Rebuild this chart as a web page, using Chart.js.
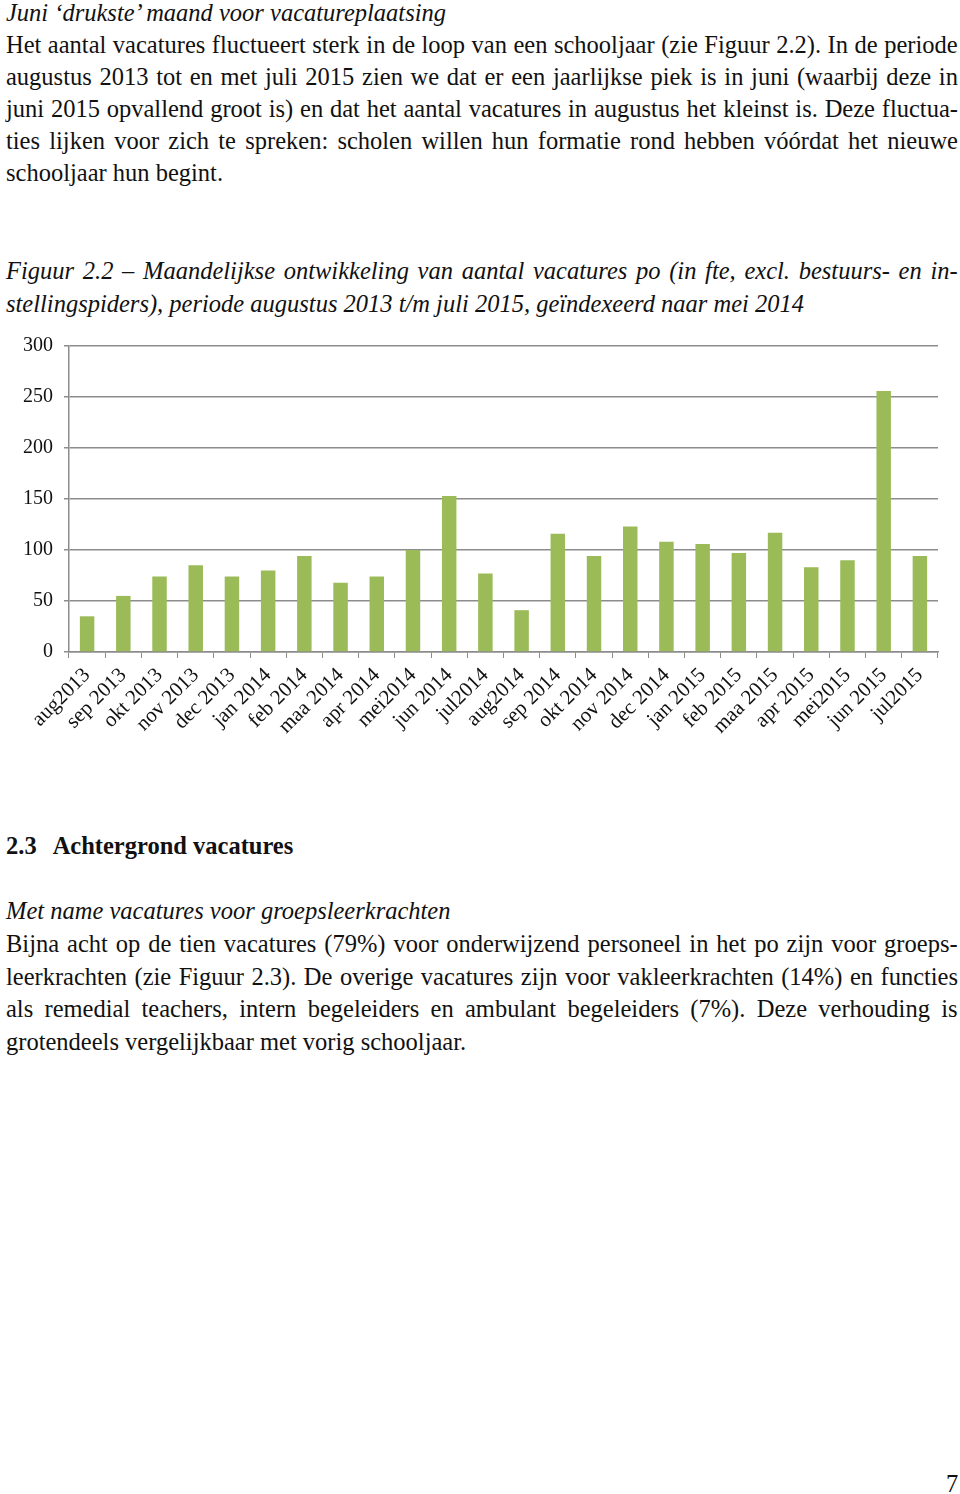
<!DOCTYPE html>
<html>
<head>
<meta charset="utf-8">
<script src="https://cdn.jsdelivr.net/npm/chart.js@4.4.1/dist/chart.umd.min.js"></script>
<style>
body{margin:0;width:960px;height:1494px;background:#fff;position:relative;overflow:hidden;font-family:"Liberation Serif","Times New Roman",serif;color:#111}
.t{position:absolute;left:6px;width:952px;font-size:24.5px}
.t div{white-space:nowrap}
.i{font-style:italic}
#c{position:absolute;left:0;top:323px}
</style>
</head>
<body>
<div class="t" style="top:-3px;line-height:32px">
<div class="i">Juni ‘drukste’ maand voor vacatureplaatsing</div>
<div class="j">Het aantal vacatures fluctueert sterk in de loop van een schooljaar (zie Figuur 2.2). In de periode</div>
<div class="j">augustus 2013 tot en met juli 2015 zien we dat er een jaarlijkse piek is in juni (waarbij deze in</div>
<div class="j">juni 2015 opvallend groot is) en dat het aantal vacatures in augustus het kleinst is. Deze fluctua-</div>
<div class="j">ties lijken voor zich te spreken: scholen willen hun formatie rond hebben vóórdat het nieuwe</div>
<div>schooljaar hun begint.</div>
</div>

<div class="t i" style="top:255px;line-height:32.5px">
<div class="j">Figuur 2.2 – Maandelijkse ontwikkeling van aantal vacatures po (in fte, excl. bestuurs- en in-</div>
<div>stellingspiders), periode augustus 2013 t/m juli 2015, geïndexeerd naar mei 2014</div>
</div>

<canvas id="c" width="960" height="437"></canvas>

<div class="t" style="top:830px;line-height:32px;font-weight:bold">
<div>2.3<span style="display:inline-block;width:16px"></span>Achtergrond vacatures</div>
</div>

<div class="t" style="top:895px;line-height:32.75px">
<div class="i">Met name vacatures voor groepsleerkrachten</div>
<div class="j">Bijna acht op de tien vacatures (79%) voor onderwijzend personeel in het po zijn voor groeps-</div>
<div class="j">leerkrachten (zie Figuur 2.3). De overige vacatures zijn voor vakleerkrachten (14%) en functies</div>
<div class="j">als remedial teachers, intern begeleiders en ambulant begeleiders (7%). Deze verhouding is</div>
<div>grotendeels vergelijkbaar met vorig schooljaar.</div>
</div>

<div class="t" style="top:1468px;left:946px;width:20px;line-height:32px">7</div>

<script>
// justify forced lines: spread the gap over the word spaces
document.querySelectorAll(".j").forEach(el=>{
const s=document.createElement("span")
s.textContent=el.textContent
el.textContent=""
el.appendChild(s)
const gaps=(s.textContent.match(/ /g)||[]).length
const extra=952-s.offsetWidth
if(gaps)el.style.wordSpacing=(extra/gaps)+"px"
})

const maanden=["aug2013","sep 2013","okt 2013","nov 2013","dec 2013","jan 2014","feb 2014","maa 2014","apr 2014","mei2014","jun 2014","jul2014",
"aug2014","sep 2014","okt 2014","nov 2014","dec 2014","jan 2015","feb 2015","maa 2015","apr 2015","mei2015","jun 2015","jul2015"]
const vacatures=[35,55,74,85,74,80,94,68,74,100,153,77,41,116,94,123,108,106,97,117,83,90,256,94]
const yMin=0,yMax=300,yStap=50

const grijs="#8c8c8c"
const serif="'Liberation Serif','Times New Roman',serif"

new Chart(document.getElementById("c"),{
type:"bar",
data:{labels:maanden,datasets:[{data:vacatures,backgroundColor:"#9bbb59",categoryPercentage:1,barPercentage:0.4}]},
options:{
responsive:false,animation:false,devicePixelRatio:1,
layout:{padding:{left:0,right:22,top:8,bottom:0}},
plugins:{legend:{display:false},tooltip:{enabled:false}},
scales:{
x:{
grid:{drawOnChartArea:false,color:grijs,tickLength:6,lineWidth:1},
border:{color:grijs,width:1.5},
ticks:{color:"#111",font:{family:serif,size:21},maxRotation:45,minRotation:45,padding:5,autoSkip:false},
afterFit:s=>{s.height=108}
},
y:{
min:yMin,max:yMax,
grid:{color:grijs,lineWidth:1.5,tickLength:5},
border:{color:grijs,width:1.5},
ticks:{stepSize:yStap,color:"#111",font:{family:serif,size:20},padding:11},
afterFit:s=>{s.width=69}
}
}
}
})
</script>
</body>
</html>
